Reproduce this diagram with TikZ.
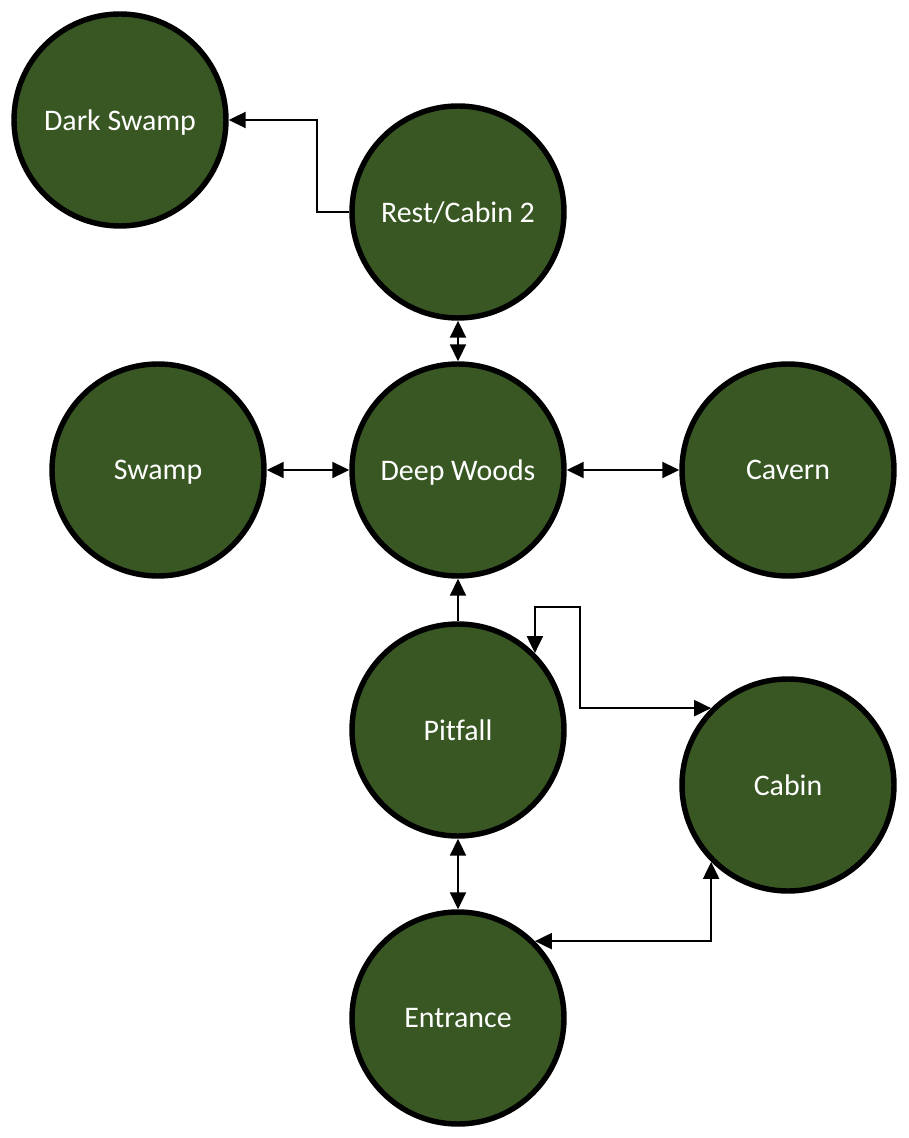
\documentclass[tikz,border=0pt]{standalone}
\usepackage{fontspec}
\setmainfont{Carlito}[Ligatures=NoCommon]
\usepackage{xcolor}
\definecolor{forest}{HTML}{385723}
\usetikzlibrary{arrows.meta, calc}

\begin{document}
\begin{tikzpicture}[>={Triangle[length=3.4mm, width=3.2mm]}, every node/.style={font=\fontsize{17}{20}\selectfont},
  place/.style={draw, circle, line width=3.1pt, fill=forest, text=white, minimum size=4.24cm, inner sep=0pt, text depth=-0.08cm},
  link/.style={line width=1.2pt}]
  \useasboundingbox (0,0) rectangle (18.16,-22.76);
  \node[place] (darkswamp) at (2.40,-2.40) {Dark Swamp};
  \node[place] (rest) at (9.16,-4.24) {Rest/Cabin 2};
  \node[place] (swamp) at (3.16,-9.40) {Swamp};
  \node[place] (deepwoods) at (9.16,-9.40) {Deep Woods};
  \node[place] (cavern) at (15.76,-9.40) {Cavern};
  \node[place] (pitfall) at (9.16,-14.60) {Pitfall};
  \node[place] (cabin) at (15.76,-15.70) {Cabin};
  \node[place] (entrance) at (9.16,-20.36) {Entrance};
  \draw[link, ->] (rest.west) -- ++(-0.64,0) |- (darkswamp.east);
  \draw[link, <->] (rest) -- (deepwoods);
  \draw[link, <->] (swamp) -- (deepwoods);
  \draw[link, <->] (deepwoods) -- (cavern);
  \draw[link, ->] (pitfall) -- (deepwoods);
  \draw[link, <->] (pitfall.45) |- (11.60,-12.14) |- (cabin.135);
  \draw[link, <->] (pitfall) -- (entrance);
  \draw[link, <->] (entrance.45) -| (cabin.225);
\end{tikzpicture}
\end{document}
